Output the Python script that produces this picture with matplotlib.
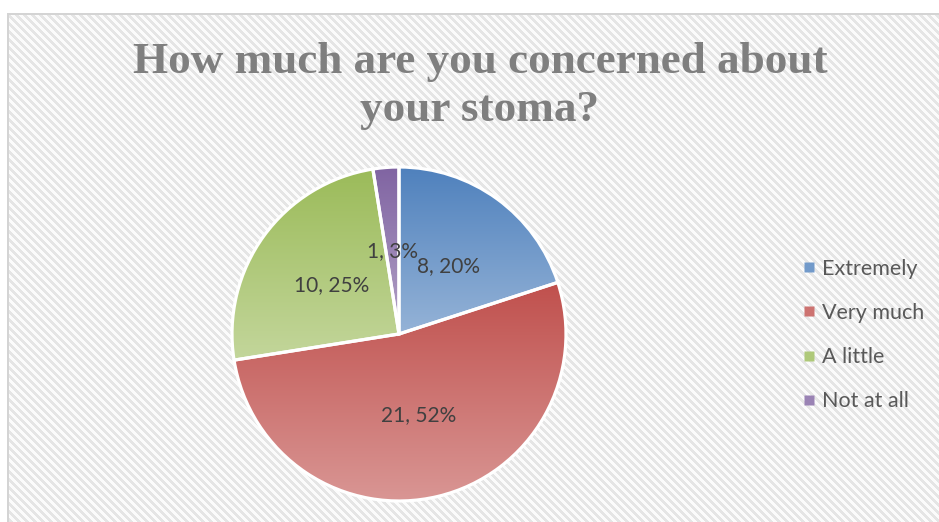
import numpy as np
import matplotlib
matplotlib.use("Agg")
import matplotlib.pyplot as plt
from matplotlib.lines import Line2D

# Survey answers
categories = ["Extremely", "Very much", "A little", "Not at all"]
counts = [8, 21, 10, 1]
percents = [20, 52, 25, 3]

# Office-style gradient: top colour -> light bottom colour
top_colors = ["#4F81BD", "#C0504D", "#9BBB59", "#8064A2"]
bottom_colors = ["#95B3D7", "#D99694", "#C3D69B", "#B3A2C7"]

W, H, DPI = 939, 522, 100
fig = plt.figure(figsize=(W / DPI, H / DPI), dpi=DPI)


def hex_rgb(h):
    h = h.lstrip("#")
    return np.array([int(h[i:i + 2], 16) for i in (0, 2, 4)]) / 255.0


# Background: white margin, then a wide downward-diagonal stripe pattern
yy, xx = np.mgrid[0:H, 0:W]
bg = np.ones((H, W, 3))
stripe = ((xx - yy) % 8) < 4
inside = (xx >= 7) & (yy >= 13)
bg[inside & stripe] = 0.90
bg[inside & ~stripe] = 0.985
border = hex_rgb("#D4D4D4")
bg[(yy >= 13) & (yy <= 14) & (xx >= 7)] = border
bg[(xx >= 7) & (xx <= 8) & (yy >= 13)] = border
fig.figimage(bg, xo=0, yo=0, zorder=-10, origin="upper")

# Pie axes, centred at pixel (399, 334) with radius 167 px
r_px = 167
lim = 1.05
cx, cy = 399, H - 334
side = 2 * lim * r_px
ax = fig.add_axes([(cx - side / 2) / W, (cy - side / 2) / H, side / W, side / H])
ax.set_zorder(1)
ax.set_facecolor("none")

wedges, _ = ax.pie(counts, startangle=90, counterclock=False, radius=1,
                   wedgeprops=dict(edgecolor="white", linewidth=2.3, facecolor="none"))

for w, ctop, cbot in zip(wedges, top_colors, bottom_colors):
    ext = w.get_path().get_extents()
    t = np.linspace(0, 1, 256)[:, None, None]
    grad = (1 - t) * hex_rgb(ctop) + t * hex_rgb(cbot)
    im = ax.imshow(grad, extent=[ext.x0, ext.x1, ext.y0, ext.y1],
                   origin="upper", aspect="auto", zorder=1, interpolation="bilinear")
    im.set_clip_path(w)
    w.set_zorder(2)

# Data labels "count, percent"
for w, n, p in zip(wedges, counts, percents):
    mid = np.deg2rad((w.theta1 + w.theta2) / 2)
    ax.text(0.5 * np.cos(mid), 0.5 * np.sin(mid), f"{n}, {p}%",
            ha="center", va="center", fontsize=15, family="Lato",
            color="#404040", zorder=3)

ax.set_xlim(-lim, lim)
ax.set_ylim(-lim, lim)
ax.set_aspect("equal")
ax.axis("off")

# Title
fig.text(480 / W, 1 - 86 / H, "How much are you concerned about\nyour stoma?",
         ha="center", va="center", fontsize=32.5, fontweight="bold",
         family="Liberation Serif", color="#7F7F7F", linespacing=1.25)

# Legend
mid_colors = [(hex_rgb(a) + hex_rgb(b)) / 2 for a, b in zip(top_colors, bottom_colors)]
handles = [Line2D([], [], marker="s", linestyle="none", markersize=6.5,
                  markerfacecolor=c, markeredgecolor="none") for c in mid_colors]
leg = fig.legend(handles, categories, loc="center left",
                 bbox_to_anchor=(792 / W, 1 - 335 / H), frameon=False,
                 prop=dict(family="Lato", size=15.5), labelspacing=1.12,
                 handlelength=0.6, handletextpad=0.3, borderpad=0)
for txt in leg.get_texts():
    txt.set_color("#595959")

fig.savefig("out.png", dpi=DPI)
